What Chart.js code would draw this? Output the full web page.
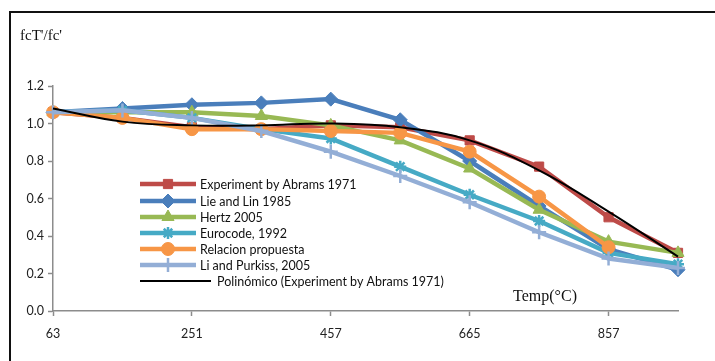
<!DOCTYPE html>
<html>
<head>
<meta charset="utf-8">
<script src="https://cdn.jsdelivr.net/npm/chart.js@4/dist/chart.umd.min.js"></script>
<style>
  html, body { margin: 0; padding: 0; background: #fff; }
  #wrap { width: 715px; height: 361px; position: relative; }
</style>
</head>
<body>
<div id="wrap"><canvas id="tempChart" width="715" height="361"></canvas></div>
<script>
// temperatures (only every other one is labelled on the axis)
const temps = ['63', '157', '251', '354', '457', '561', '665', '761', '857', '953'];

const abrams   = [1.06, 1.03, 0.98, 0.97, 0.99, 0.98, 0.91, 0.77, 0.50, 0.31];
const lieLin   = [1.06, 1.08, 1.10, 1.11, 1.13, 1.02, 0.80, 0.56, 0.33, 0.22];
const hertz    = [1.06, 1.06, 1.06, 1.04, 0.99, 0.91, 0.76, 0.54, 0.37, 0.31];
const eurocode = [1.06, 1.07, 1.03, 0.97, 0.92, 0.77, 0.62, 0.48, 0.31, 0.25];
const relacion = [1.06, 1.03, 0.97, 0.97, 0.96, 0.95, 0.85, 0.61, 0.34, null];
const liPurk   = [1.06, 1.07, 1.03, 0.96, 0.85, 0.72, 0.58, 0.42, 0.28, 0.23];
const polyFit  = [1.08, 1.01, 0.99, 0.99, 1.00, 0.98, 0.91, 0.75, 0.53, 0.29];

const yTicks = [0, 0.2, 0.4, 0.6, 0.8, 1.0, 1.2];

function series(label, data, color, style, radius, order) {
  return {
    label, data, order,
    borderColor: color,
    backgroundColor: color,
    borderWidth: 4.5,
    pointStyle: style,
    pointRadius: radius,
    pointBorderWidth: (style === 'star' || style === 'cross') ? 2.5 : 1,
    pointBorderColor: color,
    pointBackgroundColor: color,
    tension: 0
  };
}

const datasets = [
  series('Experiment by Abrams 1971', abrams, '#BE4B48', 'rect', 6.5, 6),
  series('Lie and Lin 1985', lieLin, '#4A7EBB', 'rectRot', 7, 5),
  series('Hertz 2005', hertz, '#98B954', 'triangle', 7, 4),
  series('Eurocode, 1992', eurocode, '#46AAC5', 'star', 6, 3),
  series('Relacion propuesta', relacion, '#F79646', 'circle', 6.5, 2),
  series('Li and Purkiss, 2005', liPurk, '#93AED6', 'cross', 7, 1),
  {
    label: 'Polinómico (Experiment by Abrams 1971)',
    data: polyFit, order: 0,
    borderColor: '#000', backgroundColor: '#000',
    borderWidth: 2, pointRadius: 0, tension: 0.4
  }
];

// frame, axis titles and the legend inside the plot
const extras = {
  id: 'extras',
  beforeDraw(chart) {
    const c = chart.ctx;
    c.save();
    c.fillStyle = '#fff';
    c.fillRect(0, 0, chart.width, chart.height);
    c.strokeStyle = '#111';
    c.lineWidth = 2;
    c.strokeRect(10, 12, chart.width + 20, chart.height + 20);
    c.restore();
  },
  afterDraw(chart) {
    const c = chart.ctx;
    c.save();
    c.fillStyle = '#111';
    c.font = '15px "Liberation Serif"';
    c.textBaseline = 'middle';
    c.textAlign = 'left';
    c.fillText("fcT'/fc'", 20, 36);
    c.font = '16px "Liberation Serif"';
    c.textAlign = 'center';
    c.fillText('Temp(°C)', 545, 297);

    c.font = '12.5px Lato';
    c.textAlign = 'left';
    const rowY = [184, 201, 217, 233, 249, 265, 281];
    chart.data.datasets.forEach((ds, i) => {
      const y = rowY[i];
      const isTrend = ds.pointRadius === 0;
      const x1 = 140, x2 = isTrend ? 211 : 196;
      c.strokeStyle = ds.borderColor;
      c.lineWidth = isTrend ? 2 : 4.5;
      c.beginPath();
      c.moveTo(x1, y);
      c.lineTo(x2, y);
      c.stroke();
      if (!isTrend) {
        c.fillStyle = ds.pointBackgroundColor;
        c.strokeStyle = ds.pointBorderColor;
        c.lineWidth = ds.pointBorderWidth;
        Chart.helpers.drawPoint(c, {
          pointStyle: ds.pointStyle,
          radius: ds.pointRadius,
          borderWidth: ds.pointBorderWidth,
          rotation: 0
        }, 168, y);
      }
      c.fillStyle = '#111';
      c.fillText(ds.label, x2 + (isTrend ? 6 : 4), y + 1);
    });
    c.restore();
  }
};

const ctx = document.getElementById('tempChart').getContext('2d');

new Chart(ctx, {
  type: 'line',
  data: { labels: temps, datasets },
  options: {
    responsive: false,
    animation: false,
    layout: { padding: { top: 86, right: 37, left: 0, bottom: 0 } },
    plugins: {
      legend: { display: false },
      tooltip: { enabled: false }
    },
    scales: {
      x: {
        offset: false,
        border: { color: '#8C8C8C', width: 1.5 },
        grid: {
          display: true,
          drawOnChartArea: false,
          tickLength: 5,
          tickWidth: 1.5,
          tickColor: c => (c.index % 2 === 0 ? '#8C8C8C' : 'rgba(0,0,0,0)')
        },
        ticks: {
          autoSkip: false,
          maxRotation: 0,
          padding: 10,
          color: '#222',
          font: { family: 'Lato', size: 12.5 },
          callback: (v, i) => (i % 2 === 0 ? temps[i] : '')
        },
        afterFit: s => { s.height = 50; }
      },
      y: {
        min: 0, max: 1.2,
        afterBuildTicks: s => { s.ticks = yTicks.map(v => ({ value: v })); },
        border: { color: '#8C8C8C', width: 1.5 },
        grid: {
          display: true,
          drawOnChartArea: false,
          tickLength: 5,
          tickWidth: 1.5,
          tickColor: '#8C8C8C'
        },
        ticks: {
          padding: 4,
          color: '#222',
          font: { family: 'Lato', size: 12.5 },
          callback: v => v.toFixed(1)
        },
        afterFit: s => { s.width = 53; }
      }
    }
  },
  plugins: [extras]
});
</script>
</body>
</html>
